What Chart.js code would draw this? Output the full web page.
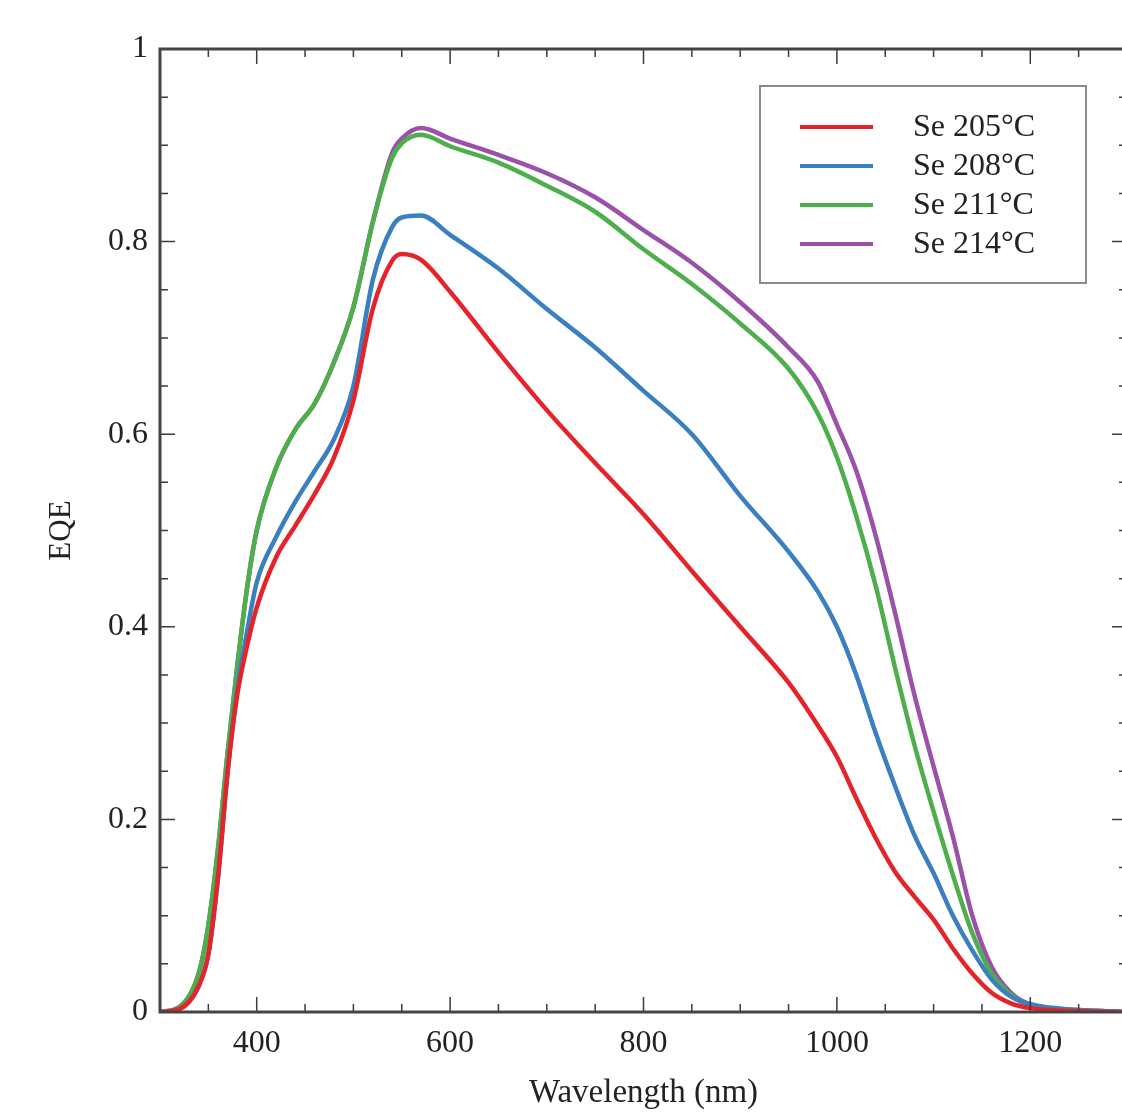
<!DOCTYPE html>
<html>
<head>
<meta charset="utf-8">
<script src="https://cdn.jsdelivr.net/npm/chart.js@4"></script>
<style>
  html, body { margin: 0; padding: 0; background: #fff; overflow: hidden; }
  #wrap { width: 1135px; height: 1115px; }
</style>
</head>
<body>
<div id="wrap"><canvas id="eqeChart" width="1135" height="1115"></canvas></div>
<script>
// ========== DATA ==========
const wavelengths = [300, 320, 340, 350, 360, 370, 380, 390, 400, 420, 440, 460, 480, 500, 520, 540, 550, 570, 600, 650,
  700, 750, 800, 850, 900, 950, 980, 1000, 1020, 1040, 1060, 1080, 1100, 1120, 1140, 1160, 1180, 1200, 1250, 1300];

const se205 = [0, 0.003, 0.027, 0.06, 0.14, 0.25, 0.33, 0.38, 0.42, 0.472, 0.505, 0.538, 0.576, 0.635, 0.73, 0.78, 0.787, 0.781, 0.748, 0.685,
  0.625, 0.57, 0.517, 0.458, 0.40, 0.342, 0.298, 0.265, 0.222, 0.181, 0.146, 0.12, 0.096, 0.066, 0.04, 0.02, 0.009, 0.004, 0.001, 0];
const se208 = [0, 0.003, 0.027, 0.06, 0.14, 0.25, 0.335, 0.395, 0.446, 0.493, 0.53, 0.562, 0.595, 0.65, 0.76, 0.815, 0.825, 0.827, 0.807, 0.772,
  0.73, 0.69, 0.645, 0.60, 0.536, 0.478, 0.437, 0.40, 0.35, 0.29, 0.235, 0.184, 0.144, 0.10, 0.064, 0.034, 0.016, 0.008, 0.002, 0];
const se211 = [0, 0.005, 0.04, 0.09, 0.17, 0.27, 0.36, 0.44, 0.50, 0.565, 0.605, 0.632, 0.675, 0.732, 0.82, 0.887, 0.902, 0.911, 0.899, 0.882,
  0.858, 0.831, 0.792, 0.756, 0.715, 0.668, 0.622, 0.576, 0.515, 0.443, 0.358, 0.278, 0.208, 0.142, 0.082, 0.04, 0.018, 0.007, 0.002, 0];
const se214 = [0, 0.005, 0.04, 0.09, 0.17, 0.27, 0.36, 0.44, 0.50, 0.565, 0.605, 0.632, 0.675, 0.732, 0.82, 0.892, 0.907, 0.918, 0.907, 0.890,
  0.871, 0.846, 0.812, 0.778, 0.737, 0.69, 0.655, 0.61, 0.562, 0.495, 0.415, 0.33, 0.255, 0.182, 0.10, 0.047, 0.02, 0.008, 0.002, 0];

const seriesLabels = ['Se 205\u00B0C', 'Se 208\u00B0C', 'Se 211\u00B0C', 'Se 214\u00B0C'];
const seriesColors = ['#e3242b', '#3a7fc0', '#4daf4a', '#9a52a8'];

const xTickLabels = [400, 600, 800, 1000, 1200];
const yTickLabels = [0, 0.2, 0.4, 0.6, 0.8, 1];

const SERIF = '"Liberation Serif", "Times New Roman", serif';

// ========== PLUGIN: frame + inward ticks ==========
const frameTicks = {
  id: 'frameTicks',
  afterDraw(chart) {
    const { ctx, chartArea: a, scales: { x, y } } = chart;
    ctx.save();
    ctx.strokeStyle = '#3c3c3c';
    ctx.lineWidth = 1.5;
    // ticks along x (every 50 nm, major every 200)
    for (let v = 300; v <= 1300; v += 50) {
      const px = x.getPixelForValue(v);
      const len = (v % 200 === 0) ? 15 : 8;
      ctx.beginPath();
      ctx.moveTo(px, a.bottom); ctx.lineTo(px, a.bottom - len);
      ctx.moveTo(px, a.top); ctx.lineTo(px, a.top + len);
      ctx.stroke();
    }
    // ticks along y (every 0.05, major every 0.2)
    for (let i = 0; i <= 20; i++) {
      const py = y.getPixelForValue(i * 0.05);
      const len = (i % 4 === 0) ? 15 : 8;
      ctx.beginPath();
      ctx.moveTo(a.left, py); ctx.lineTo(a.left + len, py);
      ctx.moveTo(a.right, py); ctx.lineTo(a.right - len, py);
      ctx.stroke();
    }
    // frame
    ctx.lineWidth = 3;
    ctx.strokeStyle = '#444';
    ctx.strokeRect(a.left, a.top, a.right - a.left, a.bottom - a.top);
    ctx.restore();
  }
};

// ========== PLUGIN: boxed legend inside plot ==========
const boxLegend = {
  id: 'boxLegend',
  afterDraw(chart) {
    const { ctx } = chart;
    ctx.save();
    ctx.fillStyle = '#fff';
    ctx.fillRect(760, 86, 326, 197);
    ctx.strokeStyle = '#8a8a8a';
    ctx.lineWidth = 2;
    ctx.strokeRect(760, 86, 326, 197);
    ctx.font = '32px ' + SERIF;
    ctx.textBaseline = 'middle';
    chart.data.datasets.forEach((ds, i) => {
      const ly = 127 + i * 39;
      ctx.strokeStyle = ds.borderColor;
      ctx.lineWidth = 4;
      ctx.beginPath();
      ctx.moveTo(800, ly); ctx.lineTo(873, ly);
      ctx.stroke();
      ctx.fillStyle = '#222';
      ctx.fillText(ds.label, 913, ly + 1);
    });
    ctx.restore();
  }
};

// ========== CHART ==========
const allSeries = [se205, se208, se211, se214];

new Chart(document.getElementById('eqeChart'), {
  type: 'line',
  data: {
    datasets: allSeries.map((vals, i) => ({
      label: seriesLabels[i],
      data: wavelengths.map((w, j) => ({ x: w, y: vals[j] })),
      borderColor: seriesColors[i],
      borderWidth: 4.5,
      pointRadius: 0,
      fill: false,
      cubicInterpolationMode: 'monotone'
    }))
  },
  options: {
    responsive: false,
    animation: false,
    layout: { padding: { left: 0, top: 49, right: 8, bottom: 0 } },
    plugins: { legend: { display: false }, tooltip: { enabled: false } },
    scales: {
      x: {
        type: 'linear',
        min: 300,
        max: 1300,
        grid: { display: false, drawTicks: false },
        border: { display: false },
        afterBuildTicks: scale => { scale.ticks = xTickLabels.map(v => ({ value: v })); },
        afterFit: scale => { scale.height = 103; },
        ticks: {
          autoSkip: false,
          maxRotation: 0,
          padding: 12,
          color: '#222',
          font: { family: SERIF, size: 32 },
          callback: v => String(v)
        },
        title: {
          display: true,
          text: 'Wavelength (nm)',
          color: '#222',
          font: { family: SERIF, size: 33 },
          padding: { top: 0, bottom: 2 }
        }
      },
      y: {
        min: 0,
        max: 1,
        grid: { display: false, drawTicks: false },
        border: { display: false },
        afterBuildTicks: scale => { scale.ticks = yTickLabels.map(v => ({ value: v })); },
        afterFit: scale => { scale.width = 160; },
        ticks: {
          padding: 12,
          color: '#222',
          font: { family: SERIF, size: 32 },
          callback: v => String(Number(v.toFixed(1)))
        },
        title: {
          display: true,
          text: 'EQE',
          color: '#222',
          font: { family: SERIF, size: 31 },
          padding: { top: 43, bottom: 0 }
        }
      }
    }
  },
  plugins: [frameTicks, boxLegend]
});
</script>
</body>
</html>
